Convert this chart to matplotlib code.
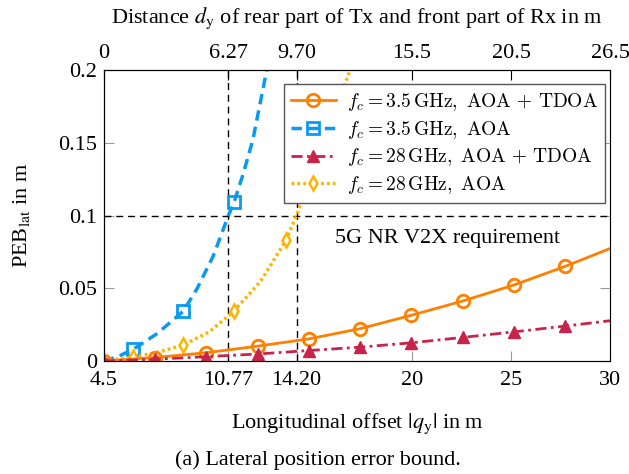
import matplotlib
matplotlib.use('Agg')
import matplotlib.pyplot as plt
from matplotlib.font_manager import FontProperties

# PEB_lat over longitudinal offset |q_y|
x_oa = [4.5, 7.08, 9.66, 12.24, 14.82, 17.4, 19.98, 22.56, 25.14, 27.72, 30]
y_35_tdoa = [0, 0.0024, 0.0057, 0.0102, 0.0152, 0.0222, 0.0314, 0.0412, 0.0522, 0.0650, 0.0774]
y_28_tdoa = [0, 0.0012, 0.0030, 0.0048, 0.0072, 0.0095, 0.0125, 0.0162, 0.0200, 0.0240, 0.0277]
mark_oa = [4.5, 7.08, 9.66, 12.24, 14.82, 17.4, 19.98, 22.56, 25.14, 27.72]

x_35_aoa = [4.5, 5.2, 5.97, 7.2, 8.5, 9.2, 10.0, 10.77, 11.05, 11.5, 12.0, 12.7, 13.2]
y_35_aoa = [0, 0.003, 0.008, 0.019, 0.0343, 0.050, 0.072, 0.100, 0.109, 0.128, 0.152, 0.200, 0.240]
x_28_aoa = [4.5, 5.97, 7.2, 8.5, 9.8, 11.05, 12.4, 13.67, 14.2, 15.0, 15.9, 16.9, 17.4]
y_28_aoa = [0, 0.0025, 0.006, 0.011, 0.020, 0.0343, 0.055, 0.083, 0.100, 0.130, 0.164, 0.200, 0.220]
mark_aoa = [5.97, 8.5, 11.05, 13.67]

bottom_ticks = [4.5, 10.77, 14.20, 20, 25, 30]
bottom_labels = ['4.5', '10.77', '14.20', '20', '25', '30']
top_labels = ['0', '6.27', '9.70', '15.5', '20.5', '26.5']
y_ticks = [0, 0.05, 0.1, 0.15, 0.2]
y_labels = ['0', '0.05', '0.1', '0.15', '0.2']
req = 0.1
crossings = [10.77, 14.20]

plt.rcParams['font.family'] = ['Liberation Serif', 'DejaVu Serif']
plt.rcParams['mathtext.fontset'] = 'stix'
fs = 16

fig = plt.figure(figsize=(6.29, 4.74), dpi=100)
ax = fig.add_axes([0.1652, 0.2384, 0.8051, 0.6139])


def idx(xs, marks):
    return [i for i, v in enumerate(xs) if any(abs(v - m) < 1e-9 for m in marks)]


ax.plot(x_oa, y_35_tdoa, color='#ff8000', lw=2, marker='o', ms=9,
        mfc='none', mew=2, markevery=idx(x_oa, mark_oa),
        label=r'$f_c = 3.5\,\mathrm{GHz},\ \mathrm{AOA}\,+\,\mathrm{TDOA}$', zorder=4)
ax.plot(x_35_aoa, y_35_aoa, color='#0a9af0', lw=2.5, ls=(0, (3, 1.8)), marker='s', ms=8.5,
        mfc='none', mew=2, markevery=idx(x_35_aoa, mark_aoa),
        label=r'$f_c = 3.5\,\mathrm{GHz},\ \mathrm{AOA}$', zorder=3)
ax.plot(x_oa, y_28_tdoa, color='#c8234a', lw=2, ls=(0, (4, 1.6, 1, 1.6)), marker='^', ms=9,
        markevery=idx(x_oa, mark_oa),
        label=r'$f_c = 28\,\mathrm{GHz},\ \mathrm{AOA}\,+\,\mathrm{TDOA}$', zorder=5)
ax.plot(x_28_aoa, y_28_aoa, color='#ffb400', lw=2.5, ls=(0, (0.8, 0.9)), marker='d', ms=7,
        mfc='white', mew=1.8, markevery=idx(x_28_aoa, mark_aoa),
        label=r'$f_c = 28\,\mathrm{GHz},\ \mathrm{AOA}$', zorder=3)

# 5G NR V2X requirement and where it is met
ax.axhline(req, color='black', lw=1, ls=(0, (5, 3.5)), zorder=2)
for xc in crossings:
    ax.axvline(xc, color='black', lw=1, ls=(0, (5, 3.5)), zorder=2)
ax.text(21.8, 0.0845, '5G NR V2X requirement', ha='center', va='center', fontsize=fs)

ax.set_xlim(4.5, 30)
ax.set_ylim(0, 0.2)
ax.set_xticks(bottom_ticks)
ax.set_xticklabels(bottom_labels)
ax.set_yticks(y_ticks)
ax.set_yticklabels(y_labels)
ax.tick_params(direction='in', length=7, color='#999999', labelsize=fs, right=True, pad=5)
ax.tick_params(axis='x', pad=7)
ax.spines['bottom'].set_color('#444444')
ax.spines['right'].set_color('#888888')
ax.set_xlabel(r'Longitudinal offset $|q_{\mathrm{y}}|$ in m', fontsize=fs, labelpad=16)
ax.set_ylabel(r'PEB$_{\mathrm{lat}}$ in m', fontsize=fs, labelpad=19)

top = ax.twiny()
top.set_xlim(ax.get_xlim())
top.set_xticks(bottom_ticks)
top.set_xticklabels(top_labels)
top.tick_params(direction='in', length=7, color='black', labelsize=fs, pad=5)
top.set_xlabel(r'Distance $d_{\mathrm{y}}$ of rear part of Tx and front part of Rx in m',
               fontsize=fs, labelpad=15)

leg_font = FontProperties(family='DejaVu Serif', size=14, math_fontfamily='cm')
leg = ax.legend(loc='upper right', bbox_to_anchor=(0.9895, 0.952), borderaxespad=0,
                prop=leg_font, fancybox=False, framealpha=1, edgecolor='#555555',
                handlelength=2.3, handletextpad=0.6, labelspacing=0.3, borderpad=0.35)
leg.get_frame().set_linewidth(1)

fig.text(0.505, 0.0295, '(a) Lateral position error bound.', ha='center', va='center', fontsize=16)

fig.savefig('out.png', dpi=100)
